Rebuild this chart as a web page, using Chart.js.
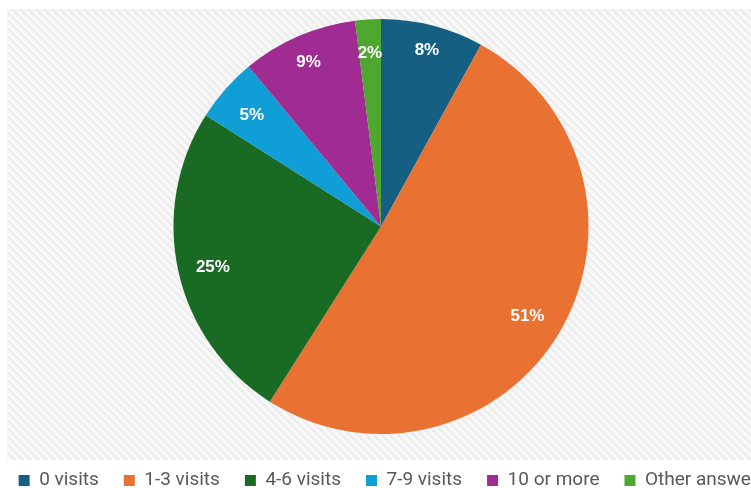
<!DOCTYPE html>
<html>
<head>
<meta charset="utf-8">
<script src="https://cdn.jsdelivr.net/npm/chart.js@4"></script>
<style>
  html, body { margin: 0; padding: 0; background: #fff; overflow: hidden; }
  #wrap { position: absolute; left: 0; top: 0; width: 751px; height: 488px; overflow: hidden; }
  canvas { position: absolute; left: -7px; top: 0; }
</style>
</head>
<body>
<div id="wrap"><canvas id="myChart" width="776" height="500"></canvas></div>
<script>
var labels = ["0 visits", "1-3 visits", "4-6 visits", "7-9 visits", "10 or more", "Other answer"];
var shares = [8, 51, 25, 5, 9, 2];
var colors = ["#156082", "#E97132", "#196B24", "#0F9ED5", "#A02B93", "#4EA72E"];
// how far out (fraction of radius) each percentage label sits
var labelRadius = [0.89, 0.82, 0.83, 0.83, 0.88, 0.85];

// light diagonal hatch behind the pie
var hatchBg = {
    id: 'hatchBg',
    beforeDraw: function(chart) {
        var c = chart.ctx;
        var x0 = 14, y0 = 9, x1 = chart.width, y1 = 460;
        c.save();
        c.fillStyle = '#fafafa';
        c.fillRect(x0, y0, x1 - x0, y1 - y0);
        c.beginPath();
        c.rect(x0, y0, x1 - x0, y1 - y0);
        c.clip();
        c.strokeStyle = '#ededed';
        c.lineWidth = 3;
        for (var s = x0 - (y1 - y0); s < x1; s += 8) {
            c.beginPath();
            c.moveTo(s, y0);
            c.lineTo(s + (y1 - y0), y1);
            c.stroke();
        }
        c.restore();
    }
};

// legend row sits a little right of the pie centre
var legendShift = {
    id: 'legendShift',
    afterLayout: function(chart) {
        chart.legend.left += 14;
        chart.legend.right += 14;
    }
};

// percentage labels inside the slices
var sliceLabels = {
    id: 'sliceLabels',
    afterDatasetsDraw: function(chart) {
        var c = chart.ctx;
        var arcs = chart.getDatasetMeta(0).data;
        c.save();
        c.fillStyle = '#ffffff';
        c.font = 'bold 17px "Liberation Sans", Arial, sans-serif';
        c.textAlign = 'center';
        c.textBaseline = 'middle';
        arcs.forEach(function(arc, i) {
            var mid = (arc.startAngle + arc.endAngle) / 2;
            var r = arc.outerRadius * labelRadius[i];
            c.fillText(shares[i] + '%', arc.x + Math.cos(mid) * r, arc.y + Math.sin(mid) * r + 3);
        });
        c.restore();
    }
};

var ctx = document.getElementById("myChart");
var myChart = new Chart(ctx, {
    type: 'pie',
    data: {
        labels: labels,
        datasets: [{
            data: shares,
            backgroundColor: colors,
            borderWidth: 0,
            radius: 207.5
        }]
    },
    options: {
        responsive: false,
        animation: false,
        layout: { padding: { top: 7, right: -6, left: -20, bottom: 0 } },
        plugins: {
            tooltip: { enabled: false },
            legend: {
                position: 'bottom',
                labels: {
                    color: '#595959',
                    font: { family: '"Liberation Sans Narrow", "Roboto", sans-serif', size: 19 },
                    boxWidth: 11,
                    boxHeight: 11,
                    padding: 25
                }
            }
        }
    },
    plugins: [hatchBg, legendShift, sliceLabels]
});
</script>
</body>
</html>
